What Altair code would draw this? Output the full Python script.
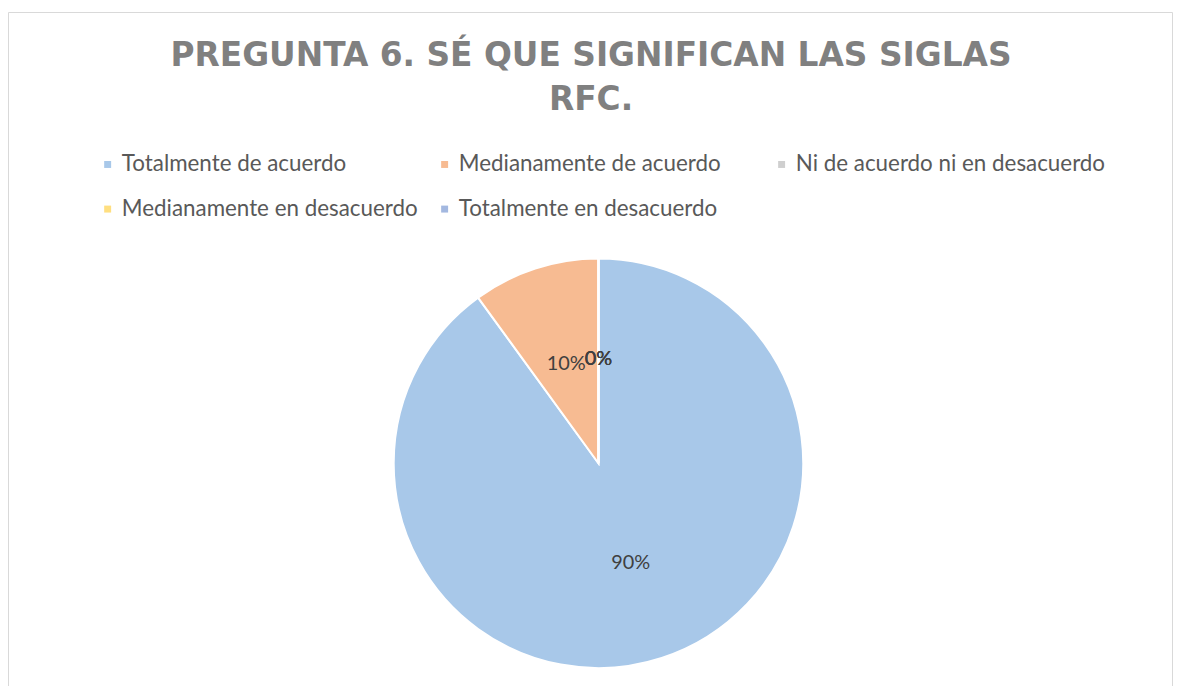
import altair as alt
import pandas as pd

categorias = [
    "Totalmente de acuerdo",
    "Medianamente de acuerdo",
    "Ni de acuerdo ni en desacuerdo",
    "Medianamente en desacuerdo",
    "Totalmente en desacuerdo",
]
porcentajes = [90, 10, 0, 0, 0]
etiquetas = ["90%", "10%", "0%", "0%", "0%"]
colores = ["#a8c8e9", "#f7bb92", "#cfcfcf", "#ffdf80", "#a3b8e0"]
titulo = ["PREGUNTA 6. SÉ QUE SIGNIFICAN LAS SIGLAS", "RFC."]

df = pd.DataFrame({
    "categoria": categorias,
    "valor": porcentajes,
    "etiqueta": etiquetas,
    "orden": list(range(len(categorias))),
})

W, H = 1173, 676
CX, CY = 594, 454

base = alt.Chart(df).encode(
    theta=alt.Theta("valor:Q", stack=True),
    order=alt.Order("orden:Q"),
    x=alt.value(CX),
    y=alt.value(CY),
)

pie = base.mark_arc(outerRadius=206, stroke="white", strokeWidth=2).encode(
    color=alt.Color(
        "categoria:N",
        scale=alt.Scale(domain=categorias, range=colores),
        legend=alt.Legend(
            title=None,
            orient="none",
            legendX=89,
            legendY=142,
            columns=3,
            direction="horizontal",
            gridAlign="all",
            columnPadding=2,
            rowPadding=22,
            padding=0,
            symbolType="square",
            symbolSize=49,
            symbolStrokeWidth=0,
            labelFont="Lato",
            labelFontSize=22.5,
            labelColor="#595959",
            labelOffset=3,
            labelLimit=500,
        ),
    )
)

labels = base.mark_text(
    radius=105, font="Lato", fontSize=20, color="#404040",
    align="center", baseline="middle"
).encode(text="etiqueta:N")

border_df = pd.DataFrame({"b": [0]})
border = alt.Chart(border_df).mark_rect(
    fill=None, stroke="#d9d9d9", strokeWidth=1
).encode(
    x=alt.value(0.5), x2=alt.value(W - 1.5),
    y=alt.value(0.5), y2=alt.value(H + 20),
)

chart = alt.layer(border, pie, labels).properties(
    width=W,
    height=H,
    autosize=alt.AutoSizeParams(type="none"),
    padding={"left": 0, "top": 2, "right": 0, "bottom": 0},
    background="white",
    title=alt.TitleParams(
        text=titulo,
        font="DejaVu Sans",
        fontSize=33,
        fontWeight="bold",
        color="#808080",
        anchor="middle",
        baseline="top",
        offset=-106,
        lineHeight=45,
    ),
).configure_view(stroke=None)

chart.save("out.html", embed_options={"renderer": "svg", "actions": False})
